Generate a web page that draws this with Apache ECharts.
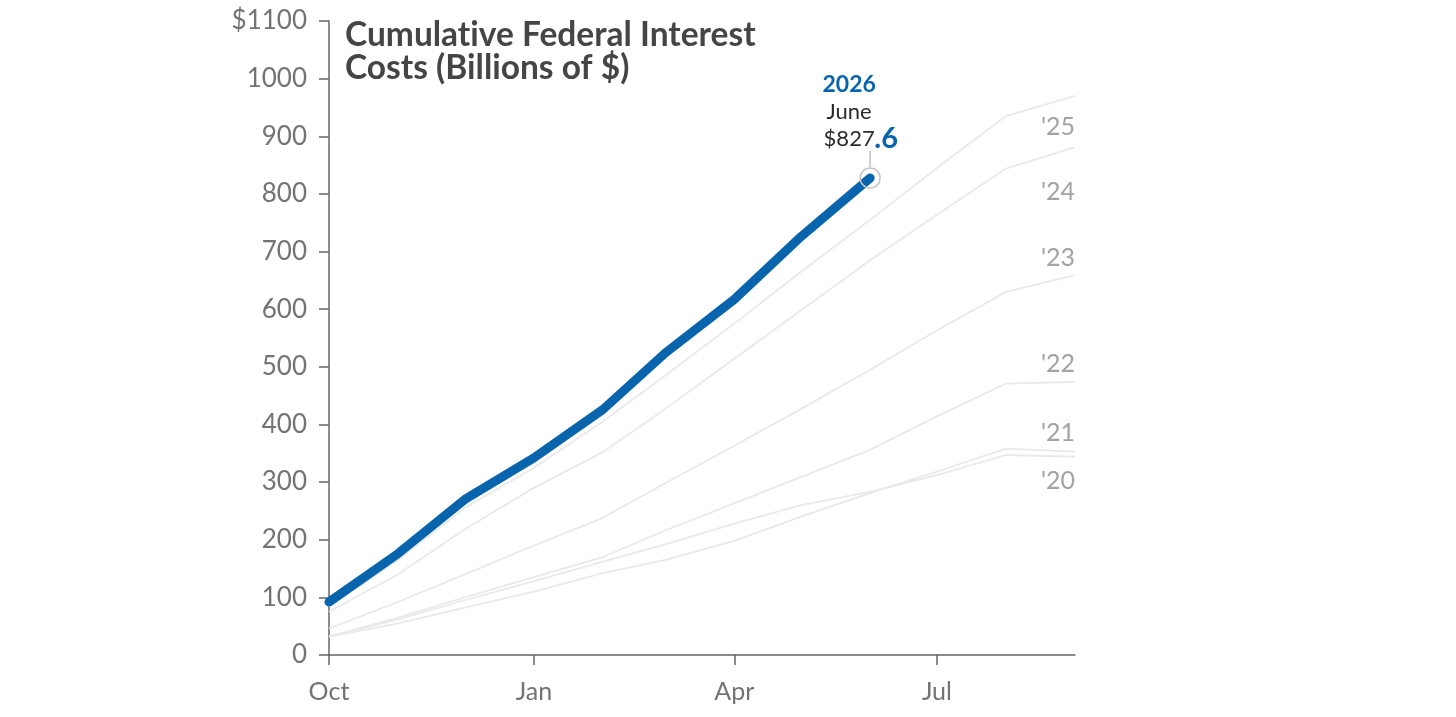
<!DOCTYPE html>
<html>
<head>
<meta charset="utf-8">
<script src="https://cdn.jsdelivr.net/npm/echarts@6/dist/echarts.min.js"></script>
<style>
  html, body { margin: 0; padding: 0; background: #fff; }
  #chart { width: 1456px; height: 717px; }
</style>
</head>
<body>
<div id="chart"></div>
<script>
// fiscal year months, Oct .. Sep
const months = ['Oct', 'Nov', 'Dec', 'Jan', 'Feb', 'Mar', 'Apr', 'May', 'Jun', 'Jul', 'Aug', 'Sep'];
const tickMonths = ['Oct', 'Jan', 'Apr', 'Jul'];

// cumulative net interest, billions of $
const fy20 = [32, 62, 95, 128, 162, 192, 228, 260, 283, 312, 347, 344];
const fy21 = [32, 55, 82, 110, 142, 165, 198, 240, 281, 318, 358, 353];
const fy22 = [32, 65, 100, 135, 170, 216, 263, 309, 356, 414, 471, 474];
const fy23 = [46, 92, 140, 190, 238, 298, 363, 427, 495, 563, 630, 659];
const fy24 = [75, 140, 218, 290, 352, 427, 514, 598, 685, 764, 844, 881];
const fy25 = [84, 165, 255, 325, 405, 485, 575, 665, 755, 845, 935, 970];
const fy26 = [92, 176, 270, 342, 426, 524, 617, 726, 827.6];

const pastNames = ["'20", "'21", "'22", "'23", "'24", "'25"];
const pastValues = [fy20, fy21, fy22, fy23, fy24, fy25];

const yTicks = [0, 100, 200, 300, 400, 500, 600, 700, 800, 900, 1000, 1100];

// day offset of each month start within the fiscal year (Oct 1 = 0)
const DAY = 86400000;
const monthDays = months.map((m, i) => (Date.UTC(2025, 9 + i, 1) - Date.UTC(2025, 9, 1)) / DAY);
const tickDays = tickMonths.map(m => monthDays[months.indexOf(m)]);

const blue = '#0865ad';
const grayLine = '#e9e9e9';
const font = 'Lato, "Open Sans", sans-serif';

// vertical nudge of the year tags at line ends
const tagDy = { "'20": 24, "'21": -19, "'22": -18, "'23": -17, "'24": 45, "'25": 31 };

const toPoints = vals => vals.map((v, i) => [monthDays[i], v]);

const series = pastNames.map((name, k) => ({
  name: name,
  type: 'line',
  data: toPoints(pastValues[k]),
  symbol: 'none',
  lineStyle: { color: grayLine, width: 1.8 },
  z: 1,
  endLabel: {
    show: true,
    formatter: name,
    color: '#a3a3a3',
    fontFamily: font,
    fontSize: 25,
    align: 'right',
    distance: 0,
    offset: [0, tagDy[name]]
  }
}));

const last = fy26.length - 1;
const lastPoint = [monthDays[last], fy26[last]];
const whole = Math.floor(fy26[last]);
const frac = (fy26[last] - whole).toFixed(1).slice(1);

series.push({
  name: "'26",
  type: 'line',
  data: toPoints(fy26).map((p, i) => i === last ? {
    value: p,
    symbol: 'circle',
    symbolSize: 20,
    itemStyle: { color: 'rgba(255,255,255,0)', borderColor: '#c4c4c4', borderWidth: 1.5 }
  } : { value: p, symbol: 'none' }),
  showSymbol: true,
  lineStyle: { color: blue, width: 9, cap: 'round', join: 'round' },
  z: 5,
  markPoint: {
    silent: true,
    data: [
      {
        coord: lastPoint,
        symbol: 'rect',
        symbolSize: [1.5, 16],
        symbolOffset: [0, -19],
        itemStyle: { color: '#bdbdbd' },
        label: {
          show: true,
          position: 'inside',
          offset: [-21, -47],
          align: 'center',
          verticalAlign: 'middle',
          formatter: '{y|2026}\n{m|June}\n{v|$' + whole + '}',
          rich: {
            y: { color: blue, fontFamily: font, fontWeight: 'bold', fontSize: 23, lineHeight: 27 },
            m: { color: '#2b2b2b', fontFamily: font, fontSize: 22, lineHeight: 27 },
            v: { color: '#2b2b2b', fontFamily: font, fontSize: 22, lineHeight: 27 }
          }
        }
      },
      {
        coord: lastPoint,
        symbol: 'rect',
        symbolSize: 0,
        label: {
          show: true,
          position: 'inside',
          offset: [16, -39],
          formatter: frac,
          color: blue,
          fontFamily: font,
          fontWeight: 'bold',
          fontSize: 29
        }
      }
    ]
  }
});

const chart = echarts.init(document.getElementById('chart'));

chart.setOption({
  animation: false,
  backgroundColor: '#fff',
  title: {
    // zero-width non-joiner keeps Lato from fusing "ti"
    text: 'Cumulat\u200Cive Federal Interest\nCosts (Billions of $)',
    left: 340,
    top: 14,
    textStyle: {
      fontFamily: font,
      fontWeight: 'bold',
      fontSize: 33.5,
      lineHeight: 33,
      color: '#454545'
    }
  },
  grid: { left: 329, right: 381, top: 21, bottom: 62 },
  xAxis: {
    type: 'value',
    min: monthDays[0],
    max: monthDays[monthDays.length - 1],
    axisLine: { lineStyle: { color: '#666', width: 1.5 } },
    axisTick: { show: true, customValues: tickDays, length: 10, lineStyle: { color: '#666', width: 1.5 } },
    axisLabel: {
      customValues: tickDays,
      formatter: v => tickMonths[tickDays.indexOf(v)] || '',
      color: '#737373',
      fontFamily: font,
      fontSize: 25,
      margin: 24
    },
    splitLine: { show: false }
  },
  yAxis: {
    type: 'value',
    min: yTicks[0],
    max: yTicks[yTicks.length - 1],
    interval: 100,
    axisLine: { show: true, lineStyle: { color: '#666', width: 1.5 } },
    axisTick: { show: true, length: 10, lineStyle: { color: '#666', width: 1.5 } },
    axisLabel: {
      formatter: v => v === yTicks[yTicks.length - 1] ? '$' + v : String(v),
      color: '#737373',
      fontFamily: font,
      fontSize: 26,
      margin: 22
    },
    splitLine: { show: false }
  },
  series: series
});
</script>
</body>
</html>
